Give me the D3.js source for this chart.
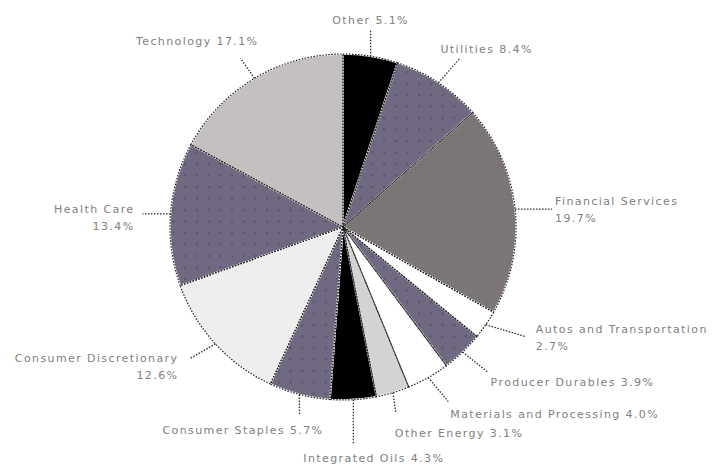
<!DOCTYPE html>
<html>
<head>
<meta charset="utf-8">
<script src="https://cdn.jsdelivr.net/npm/d3@7"></script>
<style>
  body { margin: 0; background: #fff; }
  text { font-family: "DejaVu Sans", sans-serif; font-size: 11px; fill: #808080; letter-spacing: 1.4px; }
</style>
</head>
<body>
<div id="chart"></div>
<script>
// sector names, shares (%) and fill keys, clockwise from 12 o'clock
const sectors = ['Other', 'Utilities', 'Financial Services', 'Autos and Transportation',
  'Producer Durables', 'Materials and Processing', 'Other Energy', 'Integrated Oils',
  'Consumer Staples', 'Consumer Discretionary', 'Health Care', 'Technology'];
const shares = [5.1, 8.4, 19.7, 2.7, 3.9, 4.0, 3.1, 4.3, 5.7, 12.6, 13.4, 17.1];
const fills = ['black', 'dots', 'taupe', 'white', 'dots', 'white', 'light', 'black',
  'dots', 'pale', 'dots', 'silver'];

// leader layout: offset of leader end from arc edge, label offset from leader end, anchor, two lines?
const leaders = [
  {dx: 0, dy: -27, lx: 0, ly: -5, anchor: 'middle', split: false},
  {dx: 22, dy: -25, lx: -20, ly: -5, anchor: 'start', split: false},
  {dx: 37, dy: 0, lx: 3, ly: -4, anchor: 'start', split: true},
  {dx: 40, dy: 12, lx: 10, ly: -4, anchor: 'start', split: true},
  {dx: 25, dy: 20, lx: 3, ly: 14, anchor: 'start', split: false},
  {dx: 20, dy: 24, lx: 2, ly: 16, anchor: 'start', split: false},
  {dx: 3, dy: 20, lx: -1, ly: 24, anchor: 'start', split: false},
  {dx: 0, dy: 44, lx: -50, ly: 18, anchor: 'start', split: false},
  {dx: 0, dy: 20, lx: 24, ly: 20, anchor: 'end', split: false},
  {dx: -26, dy: 15, lx: -11, ly: 3, anchor: 'end', split: true},
  {dx: -28, dy: 0, lx: -8, ly: -1, anchor: 'end', split: true},
  {dx: -14, dy: -20, lx: 18, ly: -13, anchor: 'end', split: false}
];

const width = 719, height = 466;
const cx = 343, cy = 227, radius = 173;

const svg = d3.select('#chart').append('svg')
  .attr('width', width)
  .attr('height', height);

const defs = svg.append('defs');
const dots = defs.append('pattern')
  .attr('id', 'dots')
  .attr('patternUnits', 'userSpaceOnUse')
  .attr('width', 11.7).attr('height', 11.5);
dots.append('rect').attr('width', 11.7).attr('height', 11.5).attr('fill', '#706981');
dots.append('rect').attr('x', 5).attr('y', 5).attr('width', 2).attr('height', 2).attr('fill', '#4d5563');

const taupe = defs.append('pattern')
  .attr('id', 'taupe')
  .attr('patternUnits', 'userSpaceOnUse')
  .attr('width', 2).attr('height', 2);
taupe.append('rect').attr('width', 2).attr('height', 2).attr('fill', '#7f7878');
taupe.append('rect').attr('width', 1).attr('height', 1).attr('fill', '#746d6d');

const colour = {
  black: '#000', dots: 'url(#dots)', taupe: 'url(#taupe)', white: '#fff',
  light: '#d5d2d2', pale: '#efeeee', silver: '#c4c0c0'
};

const data = sectors.map((name, i) => ({name, value: shares[i], fill: fills[i], lead: leaders[i]}));

const pie = d3.pie().sort(null).value(d => d.value);
const arc = d3.arc().innerRadius(0).outerRadius(radius);
const arcs = pie(data);

const g = svg.append('g').attr('transform', `translate(${cx},${cy})`);

g.selectAll('path.slice')
  .data(arcs)
  .enter().append('path')
  .attr('class', 'slice')
  .attr('d', arc)
  .attr('fill', d => colour[d.data.fill])
  .attr('stroke', '#fff')
  .attr('stroke-width', 1.6);

g.selectAll('path.edge')
  .data(arcs)
  .enter().append('path')
  .attr('class', 'edge')
  .attr('d', arc)
  .attr('fill', 'none')
  .attr('stroke', '#1c1c1c')
  .attr('stroke-width', 1.2)
  .attr('stroke-dasharray', '1.5,1.5');

// leader lines and labels
const edgePoint = d => {
  const a = (d.startAngle + d.endAngle) / 2;
  return [radius * Math.sin(a), -radius * Math.cos(a)];
};

const labels = g.selectAll('g.label')
  .data(arcs)
  .enter().append('g')
  .attr('class', 'label');

labels.append('line')
  .attr('x1', d => edgePoint(d)[0])
  .attr('y1', d => edgePoint(d)[1])
  .attr('x2', d => edgePoint(d)[0] + d.data.lead.dx)
  .attr('y2', d => edgePoint(d)[1] + d.data.lead.dy)
  .attr('stroke', '#2a2a2a')
  .attr('stroke-width', 1.3)
  .attr('stroke-dasharray', '1.5,1.5');

labels.append('text')
  .attr('x', d => edgePoint(d)[0] + d.data.lead.dx + d.data.lead.lx)
  .attr('y', d => edgePoint(d)[1] + d.data.lead.dy + d.data.lead.ly)
  .attr('text-anchor', d => d.data.lead.anchor)
  .each(function(d) {
    const t = d3.select(this);
    const pct = d.data.value.toFixed(1) + '%';
    if (d.data.lead.split) {
      t.append('tspan').text(d.data.name);
      t.append('tspan')
        .attr('x', t.attr('x'))
        .attr('dy', 17)
        .text(pct);
    } else {
      t.text(d.data.name + ' ' + pct);
    }
  });
</script>
</body>
</html>
